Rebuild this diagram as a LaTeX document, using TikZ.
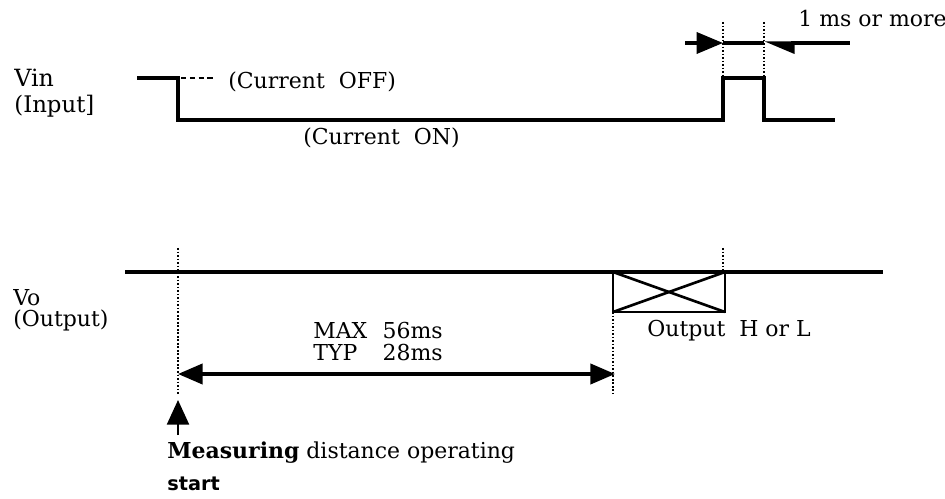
\documentclass[tikz,border=0pt]{standalone}
\usepackage{fontspec}
\setmainfont{DejaVu Serif}
\setsansfont{DejaVu Sans}
\usetikzlibrary{arrows.meta}

\tikzset{
  lbl/.style={anchor=base west, inner sep=0pt, font=\fontsize{12.5}{12.5}\selectfont},
  wave/.style={line width=1.9pt},
  guide/.style={line width=1pt, densely dotted},
  dim/.style={{Triangle[length=14pt,width=11.5pt]}-{Triangle[length=14pt,width=11.5pt]}},
}

\begin{document}
\begin{tikzpicture}[x=0.02cm, y=-0.02cm]
\useasboundingbox (0,0) rectangle (945,499);

\draw[wave] (137,78) -- (178,78) -- (178,120) -- (723,120) -- (723,78) -- (764,78) -- (764,120) -- (835,120);
\draw[line width=0.9pt, densely dashed] (181,78) -- (216,78);

\draw[guide] (723,22) -- (723,78);
\draw[guide] (764,22) -- (764,78);
\draw[guide] (178,248) -- (178,395);
\draw[guide] (723,248) -- (723,272);
\draw[guide] (613,312) -- (613,394);

\coordinate (p1) at (723,43);
\coordinate (p2) at (764,43);
\draw[wave, -{Triangle[length=15pt,width=12pt]}] (685,43) -- (p1);
\draw[wave] (p1) -- (p2);
\draw[wave, {Triangle[length=15pt,width=12pt,left]}-] (p2) -- (850,43);

\draw[wave] (125,272) -- (883,272);
\draw[line width=1.3pt] (613,272) rectangle (725,312);
\draw[line width=1.5pt] (613,272) -- (725,312);
\draw[line width=1.5pt] (613,312) -- (725,272);

\coordinate (t0) at (178,374);
\coordinate (t1) at (615,374);
\draw[wave, dim] (t0) -- (t1);

\coordinate (s0) at (178,435);
\coordinate (s1) at (178,400);
\draw[line width=1.3pt, -{Triangle[length=14pt,width=12.5pt]}] (s0) -- (s1);

\node[lbl, font=\fontsize{13.5}{13.5}\selectfont] (vin) at (14,87) {Vin};
\node[lbl, font=\fontsize{13}{13}\selectfont] (input) at (14,113) {(Input]};
\node[lbl] (off) at (228,89) {(Current\ \ OFF)};
\node[lbl] (on) at (303,145) {(Current\ \ ON)};
\node[lbl] (width) at (798,27) {1 ms or more};

\node[lbl] (vo) at (13,306) {Vo};
\node[lbl] (output) at (13,327) {(Output)};
\node[lbl] (delay) at (313,338) {\begin{tabular}[t]{@{}l@{\hspace{0.7em}}l@{}}MAX & 56ms\\ TYP & 28ms\end{tabular}};
\node[lbl] (state) at (647,337) {Output\ \ H or L};

\node[lbl] (meas) at (167,458) {\textbf{Measuring} distance operating};
\node[lbl, font=\fontsize{11}{11}\selectfont\sffamily\bfseries] (start) at (167,490) {start};

\end{tikzpicture}
\end{document}
